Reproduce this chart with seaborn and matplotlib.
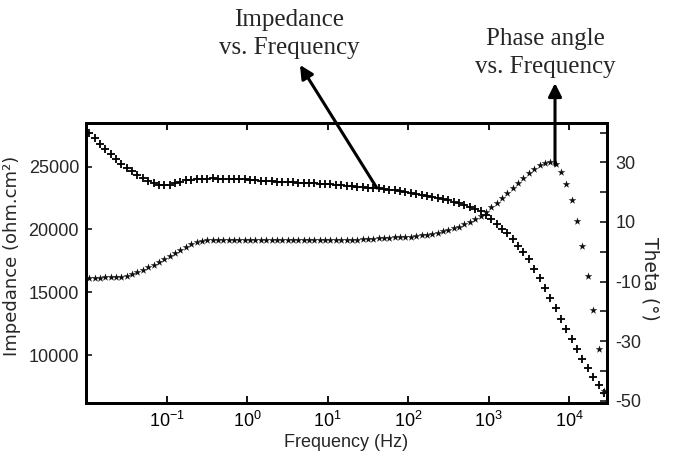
import numpy as np
import pandas as pd
import matplotlib
matplotlib.use("Agg")
import matplotlib.pyplot as plt
import seaborn as sns
from matplotlib import font_manager
from matplotlib.ticker import LogFormatterMathtext, FixedLocator, NullLocator

# ---------------- data ----------------
frequency_hz = [
    0.0108, 0.0126, 0.0147, 0.0171, 0.0200, 0.0233, 0.0271, 0.0316, 0.0369, 0.0430, 0.0501, 0.0584, 0.0681, 0.0794, 0.0926,
    0.108, 0.126, 0.147, 0.171, 0.200, 0.233, 0.271, 0.316, 0.369, 0.430, 0.501, 0.584, 0.681, 0.794, 0.926,
    1.08, 1.26, 1.47, 1.71, 2.00, 2.33, 2.71, 3.16, 3.69, 4.30, 5.01, 5.84, 6.81, 7.94, 9.26,
    10.8, 12.6, 14.7, 17.1, 20.0, 23.3, 27.1, 31.6, 36.9, 43.0, 50.1, 58.4, 68.1, 79.4, 92.6,
    108, 126, 147, 171, 200, 233, 271, 316, 369, 430, 501, 584, 681, 794, 926,
    1080, 1260, 1470, 1710, 2000, 2330, 2710, 3160, 3690, 4300, 5010, 5840, 6810, 7940, 9260,
    10800, 12600, 14700, 17100, 20000, 23300, 27100,
]

impedance = [
    27710, 27260, 26800, 26380, 25980, 25600, 25250, 24920, 24620, 24350, 24100, 23880, 23700, 23560, 23520,
    23580, 23700, 23820, 23920, 23980, 24000, 24020, 24050, 24070, 24050, 24030, 24020, 24020, 24000, 23990,
    23960, 23920, 23880, 23850, 23830, 23810, 23800, 23790, 23770, 23740, 23720, 23700, 23680, 23650, 23620,
    23590, 23550, 23510, 23470, 23430, 23400, 23370, 23340, 23300, 23270, 23230, 23180, 23130, 23080, 23010,
    22940, 22860, 22780, 22700, 22610, 22530, 22440, 22320, 22200, 22070, 21940, 21780, 21600, 21450, 21150,
    20800, 20420, 20050, 19680, 19220, 18720, 18220, 17650, 16880, 16120, 15360, 14580, 13720, 12880, 12060,
    11260, 10500, 9720, 8960, 8260, 7580, 6950,
]

phase_angle = [
    -8.7, -8.7, -8.7, -8.6, -8.6, -8.5, -8.4, -8.2, -7.6, -6.8, -6.0, -5.2, -4.4, -3.4, -2.3,
    -1.3, -0.3, 0.7, 1.6, 2.5, 3.1, 3.6, 3.9, 4.0, 4.0, 4.0, 3.9, 3.9, 3.9, 3.9,
    3.9, 3.9, 3.9, 3.9, 3.9, 3.9, 3.9, 3.9, 3.9, 3.9, 3.9, 3.9, 3.9, 3.9, 3.9,
    3.9, 3.9, 4.0, 4.0, 4.0, 4.1, 4.2, 4.3, 4.4, 4.5, 4.6, 4.7, 4.8, 4.9, 5.0,
    5.1, 5.3, 5.5, 5.7, 6.0, 6.4, 6.9, 7.3, 7.8, 8.4, 9.2, 10.1, 11.0, 12.1, 13.4,
    14.9, 16.4, 18.1, 19.8, 21.5, 23.2, 24.8, 26.4, 27.9, 29.1, 29.9, 30.2, 29.4, 26.6, 22.6,
    17.4, 10.4, 2.0, -8.2, -19.6, -32.6, -46.8,
]

left_ticks = [10000, 15000, 20000, 25000]
right_ticks = [-50, -40, -30, -20, -10, 0, 10, 20, 30, 40]
right_labels = ["-50", "", "-30", "", "-10", "", "10", "", "30", ""]
x_ticks = [0.1, 1, 10, 100, 1000, 10000]

df = pd.DataFrame({"freq": frequency_hz, "Z": impedance, "theta": phase_angle})

# ---------------- style ----------------
sns.set_style("ticks")
names = {f.name for f in font_manager.fontManager.ttflist}
narrow = "Liberation Sans Narrow" if "Liberation Sans Narrow" in names else "Liberation Sans"
plt.rcParams["font.family"] = [narrow, "DejaVu Sans"]
plt.rcParams["mathtext.fontset"] = "custom"
plt.rcParams["mathtext.rm"] = narrow
plt.rcParams["mathtext.it"] = narrow
plt.rcParams["mathtext.default"] = "regular"
plt.rcParams["axes.unicode_minus"] = False

fig = plt.figure(figsize=(6.76, 4.62), dpi=100)
W, H = 676, 462
ax = fig.add_axes([86 / W, 1 - 403 / H, (607 - 86) / W, (403 - 123) / H])

sns.scatterplot(data=df, x="freq", y="Z", ax=ax, marker="+", s=36,
                color="black", linewidth=1.3, legend=False, zorder=3)
ax.set_xscale("log")
ax.set_xlim(0.00984, 29700)
ax.set_ylim(6180, 28480)

ax2 = ax.twinx()
sns.scatterplot(data=df, x="freq", y="theta", ax=ax2, marker="*", s=34,
                color="#111111", linewidth=0, legend=False, zorder=3)
ax2.set_ylim(-50.77, 43.2)
ax2.set_xlim(0.00984, 29700)

# spines
for a in (ax, ax2):
    for sp in a.spines.values():
        sp.set_linewidth(2.0)
        sp.set_color("black")
        sp.set_visible(True)

# x ticks
ax.xaxis.set_major_locator(FixedLocator(x_ticks))
ax.xaxis.set_minor_locator(NullLocator())
ax.xaxis.set_major_formatter(LogFormatterMathtext())
ax.tick_params(axis="x", which="major", direction="in", length=5, width=1.3,
               top=True, labeltop=False, labelsize=13, pad=6, colors="black")
ax.set_xlabel("Frequency (Hz)", fontsize=13, labelpad=2)

# left y ticks
ax.set_yticks(left_ticks)
ax.set_yticklabels([str(v) for v in left_ticks])
ax.tick_params(axis="y", which="major", direction="in", length=4, width=1.3,
               labelsize=13, pad=5, right=False)
ax.yaxis.set_minor_locator(NullLocator())
ax.set_ylabel("Impedance (ohm.cm²)", fontsize=13, family="DejaVu Sans")
ax.yaxis.set_label_coords(-0.125, 0.525)

# right y ticks
ax2.set_yticks(right_ticks)
ax2.set_yticklabels(right_labels)
ax2.tick_params(axis="y", which="major", direction="in", length=5, width=1.3,
                labelsize=13, pad=6, left=False)
ax2.yaxis.set_minor_locator(NullLocator())
ax2.set_ylabel("Theta (°)", fontsize=13.5, family="DejaVu Sans", rotation=270, va="center")
ax2.yaxis.set_label_coords(1.0825, 0.443)

# annotation texts
serif = ["Liberation Serif", "DejaVu Serif"]
fig.text(289 / W, 1 - 34 / H, "Impedance\nvs. Frequency", ha="center", va="center",
         fontsize=18, family=serif, linespacing=1.38)
fig.text(545 / W, 1 - 53 / H, "Phase angle\nvs. Frequency", ha="center", va="center",
         fontsize=18, family=serif, linespacing=1.38)

arrow = dict(arrowstyle="-|>", lw=2.2, color="black", mutation_scale=20,
             shrinkA=0, shrinkB=0)
ax.annotate("", xy=(4.51, 33100), xytext=(40.8, 23300), xycoords="data",
            textcoords="data", arrowprops=arrow, annotation_clip=False)
ax2.annotate("", xy=(6700, 56.6), xytext=(6700, 29.1), xycoords="data",
             textcoords="data", arrowprops=arrow, annotation_clip=False)

fig.savefig("out.png", dpi=100, facecolor="white")
